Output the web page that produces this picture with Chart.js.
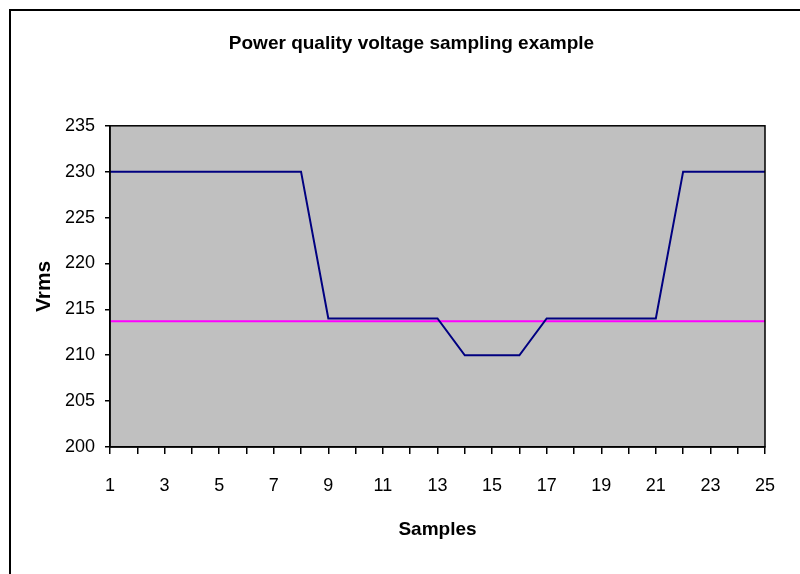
<!DOCTYPE html>
<html>
<head>
<meta charset="utf-8">
<title>Power quality voltage sampling example</title>
<script src="https://cdn.jsdelivr.net/npm/chart.js@4/dist/chart.umd.min.js"></script>
<style>
  html, body { margin: 0; padding: 0; background: #fff; overflow: hidden; width: 800px; height: 574px; }
  #frame { position: absolute; left: 9px; top: 9px; width: 900px; height: 700px;
           border-left: 2px solid #000; border-top: 2px solid #000; box-sizing: border-box; }
  #wrap { position: absolute; left: 0; top: 0; width: 823px; height: 574px; }
</style>
</head>
<body>
<div id="frame"></div>
<div id="wrap"><canvas id="chart"></canvas></div>
<script>
// Sample numbers along the x axis
const samples = [1, 2, 3, 4, 5, 6, 7, 8, 9, 10, 11, 12, 13, 14, 15, 16, 17, 18, 19, 20, 21, 22, 23, 24, 25];
// Measured RMS voltage per sample
const vrms = [230, 230, 230, 230, 230, 230, 230, 230,
              214, 214, 214, 214, 214,
              210, 210, 210,
              214, 214, 214, 214, 214,
              230, 230, 230, 230];
// Sag threshold level
const thresholdLevel = 213.7;
const threshold = samples.map(() => thresholdLevel);
// Y axis range
const yMin = 200, yMax = 235, yStep = 5;

const FONT = '"Liberation Sans", Arial, Helvetica, sans-serif';

// Grey plot background with a dark outline
const plotBackground = {
  id: 'plotBackground',
  beforeDraw(chart) {
    const { ctx, chartArea: a } = chart;
    ctx.save();
    ctx.fillStyle = '#c0c0c0';
    ctx.fillRect(a.left, a.top, a.right - a.left, a.bottom - a.top);
    ctx.restore();
  },
  afterDatasetsDraw(chart) {
    const { ctx, chartArea: a } = chart;
    ctx.save();
    ctx.strokeStyle = '#000';
    ctx.lineWidth = 1.5;
    ctx.strokeRect(a.left, a.top, a.right - a.left, a.bottom - a.top);
    ctx.restore();
  }
};

new Chart(document.getElementById('chart'), {
  type: 'line',
  data: {
    labels: samples,
    datasets: [
      {
        label: 'Vrms',
        data: vrms,
        borderColor: '#000080',
        borderWidth: 2,
        pointRadius: 0,
        tension: 0,
        fill: false
      },
      {
        label: 'Threshold',
        data: threshold,
        borderColor: '#ff00ff',
        borderWidth: 2,
        pointRadius: 0,
        tension: 0,
        fill: false
      }
    ]
  },
  options: {
    responsive: true,
    maintainAspectRatio: false,
    animation: false,
    events: [],
    layout: { padding: 0 },
    plugins: {
      legend: { display: false },
      tooltip: { enabled: false },
      title: {
        display: true,
        text: 'Power quality voltage sampling example',
        color: '#000',
        font: { family: FONT, size: 19, weight: 'bold' },
        padding: { top: 32, bottom: 71 }
      }
    },
    scales: {
      x: {
        type: 'category',
        offset: false,
        border: { display: true, color: '#000', width: 1.5 },
        grid: { display: true, drawOnChartArea: false, drawTicks: true, tickLength: 7, color: '#000', lineWidth: 1.5 },
        ticks: {
          autoSkip: false,
          maxRotation: 0,
          color: '#000',
          padding: 21,
          font: { family: FONT, size: 18 },
          callback: function (value, index) {
            return index % 2 === 0 ? this.getLabelForValue(value) : '';
          }
        },
        title: {
          display: true,
          text: 'Samples',
          color: '#000',
          font: { family: FONT, size: 19, weight: 'bold' },
          padding: { top: 0, bottom: 33 }
        },
        afterFit(scale) { scale.height = 127; }
      },
      y: {
        min: yMin,
        max: yMax,
        border: { display: true, color: '#000', width: 1.5 },
        grid: { display: true, drawOnChartArea: false, drawTicks: true, tickLength: 5, color: '#000', lineWidth: 1.5 },
        ticks: {
          stepSize: yStep,
          color: '#000',
          padding: 10,
          font: { family: FONT, size: 18 }
        },
        title: {
          display: true,
          text: 'Vrms',
          color: '#000',
          font: { family: FONT, size: 21, weight: 'bold' },
          padding: { top: 32, bottom: 0 }
        },
        afterFit(scale) { scale.width = 110; }
      },
      // blank margin on the right of the plot
      yRight: {
        position: 'right',
        display: true,
        min: yMin,
        max: yMax,
        grid: { display: false },
        border: { display: false },
        ticks: { display: false },
        afterFit(scale) { scale.width = 58; }
      }
    }
  },
  plugins: [plotBackground]
});
</script>
</body>
</html>
